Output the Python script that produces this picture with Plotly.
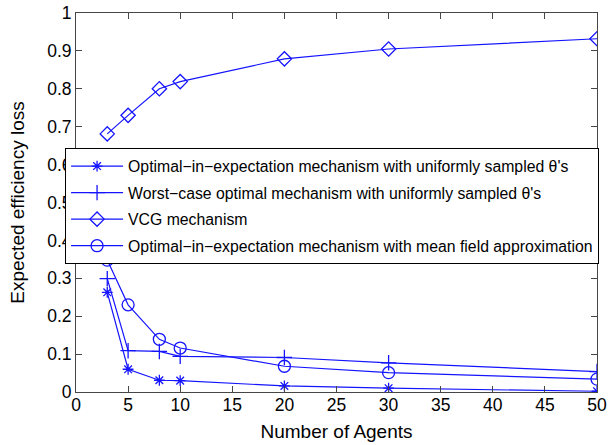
import plotly.graph_objects as go

agents = [3, 5, 8, 10, 20, 30, 50]
opt_uniform = [0.263, 0.060, 0.031, 0.030, 0.016, 0.010, 0.002]
worst_uniform = [0.299, 0.109, 0.107, 0.094, 0.091, 0.077, 0.054]
vcg = [0.681, 0.730, 0.800, 0.819, 0.879, 0.905, 0.932]
mean_field = [0.348, 0.230, 0.139, 0.116, 0.068, 0.051, 0.034]

names = [
    "Optimal\u2212in\u2212expectation mechanism with uniformly sampled \u03b8's",
    "Worst\u2212case optimal mechanism with uniformly sampled \u03b8's",
    "VCG mechanism",
    "Optimal\u2212in\u2212expectation mechanism with mean field approximation",
]
series = [opt_uniform, worst_uniform, vcg, mean_field]
symbols = ["asterisk-open", "cross-thin-open", "diamond-open", "circle-open"]
sizes = [9, 11, 11, 12]

blue = "rgb(20,20,255)"
font_family = "Liberation Sans, Arial, Helvetica"
fig = go.Figure()
for i, (nm, ys, sym, sz) in enumerate(zip(names, series, symbols, sizes)):
    fig.add_trace(go.Scatter(
        x=agents, y=ys, name=nm, mode="lines+markers",
        line=dict(color=blue, width=1.2),
        marker=dict(symbol=sym, size=sz, color=blue, line=dict(color=blue, width=1.3)),
        legendgroup=f"g{i}",
    ))

axis_common = dict(
    showgrid=False, zeroline=False, showline=True, linecolor="rgb(70,70,70)", linewidth=1,
    mirror="ticks", ticks="inside", ticklen=6, tickcolor="rgb(70,70,70)",
    tickfont=dict(family=font_family, size=17.5, color="black"),
)
fig.update_xaxes(range=[0, 50], dtick=5, ticklabelstandoff=-3,
                 title=dict(text="Number of Agents", standoff=10,
                            font=dict(family=font_family, size=19, color="black")), **axis_common)
fig.update_yaxes(range=[0, 1],
                 tickvals=[0, 0.1, 0.2, 0.3, 0.4, 0.5, 0.6, 0.7, 0.8, 0.9, 1],
                 ticktext=["0", "0.1", "0.2", "0.3", "0.4", "0.5", "0.6", "0.7", "0.8", "0.9", "1"],
                 ticklabelstandoff=0,
                 title=dict(text="Expected efficiency loss", standoff=17,
                            font=dict(family=font_family, size=19, color="black")), **axis_common)

fig.update_layout(
    width=609, height=445,
    margin=dict(l=76, r=12, t=13, b=53, autoexpand=False),
    paper_bgcolor="white", plot_bgcolor="white",
    showlegend=True,
    legend=dict(
        x=-0.021, y=0.643, xanchor="left", yanchor="top",
        bgcolor="white", bordercolor="black", borderwidth=1,
        font=dict(family=font_family, size=15.8, color="black"),
        tracegroupgap=3, traceorder="grouped", itemwidth=52,
    ),
)
fig.write_html("out.html")
